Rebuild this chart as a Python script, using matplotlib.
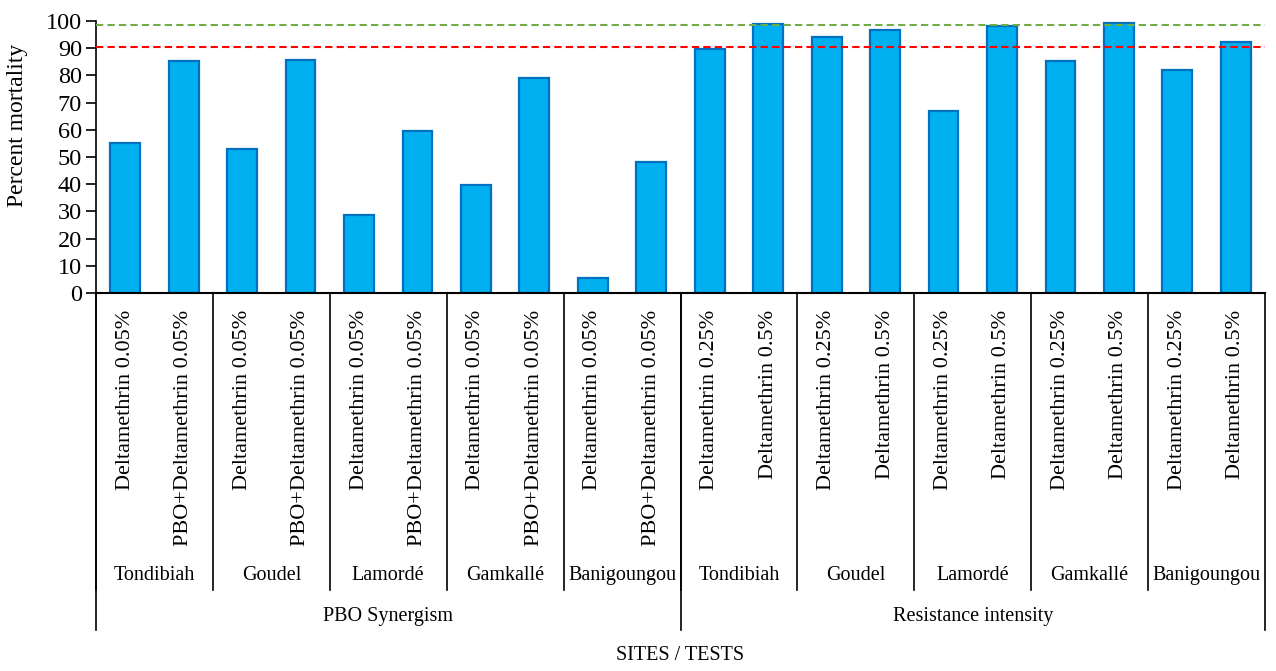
import numpy as np
import matplotlib
matplotlib.use("Agg")
import matplotlib.pyplot as plt
import matplotlib.transforms as mtransforms

matplotlib.rcParams['font.family'] = ['Liberation Serif', 'DejaVu Serif']

sites = ["Tondibiah", "Goudel", "Lamordé", "Gamkallé", "Banigoungou"]
groups = ["PBO Synergism", "Resistance intensity"]
tests_pbo = ["Deltamethrin 0.05%", "PBO+Deltamethrin 0.05%"]
tests_int = ["Deltamethrin 0.25%", "Deltamethrin 0.5%"]

mort_pbo = [55.0, 85.2, 53.1, 85.8, 28.5, 59.7, 39.7, 79.0, 5.5, 48.2]
mort_int = [89.8, 99.0, 94.1, 96.7, 66.9, 98.2, 85.2, 99.3, 82.1, 92.1]

threshold_resist = 90.3
threshold_susc = 98.7

labels = tests_pbo * len(sites) + tests_int * len(sites)
values = mort_pbo + mort_int
x = np.arange(len(values))

fig = plt.figure(figsize=(12.76, 6.71), dpi=100)
ax = fig.add_axes([96/1276, 1 - 293/671, (1265-96)/1276, 272/671])

ax.bar(x, values, width=0.51, color='#00B0F0', edgecolor='#0070C0', linewidth=1.6, zorder=2)
ax.axhline(threshold_susc, color='#70AD47', linestyle='--', linewidth=1.5, dashes=(3.5, 2), zorder=3)
ax.axhline(threshold_resist, color='#FF0000', linestyle='--', linewidth=1.5, dashes=(3.5, 2), zorder=3)

ax.set_xlim(-0.5, len(values) - 0.5)
ax.set_ylim(0, 100)
ax.set_yticks(range(0, 101, 10))
ax.tick_params(axis='y', labelsize=17.5, length=7, width=1.2, direction='out', pad=3)
ax.set_xticks([])
for s in ['top', 'right']:
    ax.spines[s].set_visible(False)
ax.spines['left'].set_linewidth(1.2)
ax.spines['bottom'].set_linewidth(1.5)
fig.text(18/1276, 1 - 125/671, "Percent mortality", rotation=90, ha='center', va='center', fontsize=17)

trans = mtransforms.blended_transform_factory(ax.transData, ax.transAxes)

# rotated test labels
for xi, lab in zip(x, labels):
    ax.text(xi, -0.062, lab, rotation=90, ha='center', va='top', fontsize=16, transform=trans)

# site separators and labels
n_sites = len(sites)
for g in range(len(groups)):
    for s in range(n_sites):
        left = g * 2 * n_sites + 2 * s - 0.5
        ax.plot([left, left], [0, -1.092], color='black', lw=1.2, transform=trans, clip_on=False)
        ax.text(left + 1, -1.04, sites[s], ha='center', va='center', fontsize=14.5, transform=trans)
    gl = g * 2 * n_sites - 0.5
    ax.plot([gl, gl], [0, -1.239], color='black', lw=1.2, transform=trans, clip_on=False)
    ax.text(gl + n_sites, -1.191, groups[g], ha='center', va='center', fontsize=14.5, transform=trans)
end = len(values) - 0.5
ax.plot([end, end], [0, -1.239], color='black', lw=1.2, transform=trans, clip_on=False)

fig.text(680/1276, 1 - 655/671, "SITES / TESTS", ha='center', va='center', fontsize=14.5)

fig.savefig("out.png", dpi=100)
